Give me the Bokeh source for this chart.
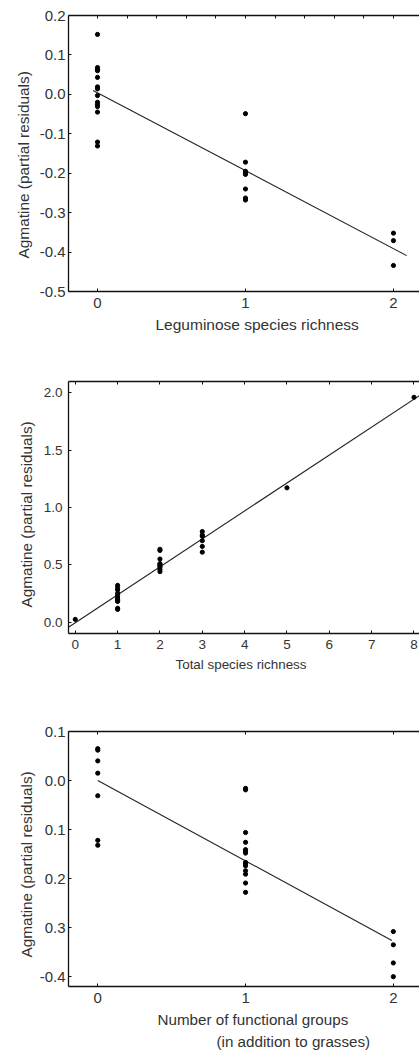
from bokeh.plotting import figure
from bokeh.models import FixedTicker, LinearAxis, Title, Range1d
from bokeh.layouts import column
from bokeh.embed import file_html
from bokeh.resources import INLINE

# ---------------- data ----------------
# Panel 1: Leguminose species richness
leg_x = [0, 0, 0, 0, 0, 0, 0, 0, 0, 0, 0, 0, 0, 0,
         1, 1, 1, 1, 1, 1, 1, 1,
         2, 2, 2]
leg_y = [0.152, 0.068, 0.063, 0.060, 0.043, 0.019, 0.014, -0.003, -0.020, -0.026, -0.031, -0.045, -0.121, -0.131,
         -0.049, -0.172, -0.195, -0.200, -0.203, -0.240, -0.263, -0.268,
         -0.352, -0.371, -0.434]
leg_fit_x = [-0.03, 2.09]
leg_fit_y = [0.010, -0.409]
leg_yticks = [0.2, 0.1, 0.0, -0.1, -0.2, -0.3, -0.4, -0.5]
leg_ytick_labels = ["0.2", "0.1", "0.0", "-0.1", "-0.2", "-0.3", "-0.4", "-0.5"]
leg_xticks = [0, 1, 2]
leg_xtick_labels = ["0", "1", "2"]
leg_top_ticks = [0.0, 0.2, 0.4, 0.6, 0.8, 1.0, 1.2, 1.4, 1.6, 1.8, 2.0]

# Panel 2: Total species richness
tot_x = [0,
         1, 1, 1, 1, 1, 1, 1, 1, 1, 1, 1,
         2, 2, 2, 2, 2, 2, 2, 2, 2,
         3, 3, 3, 3, 3, 3,
         5, 8]
tot_y = [0.023,
         0.32, 0.30, 0.28, 0.25, 0.23, 0.21, 0.20, 0.19, 0.18, 0.12, 0.11,
         0.635, 0.625, 0.55, 0.51, 0.50, 0.49, 0.48, 0.46, 0.44,
         0.79, 0.76, 0.75, 0.71, 0.66, 0.61,
         1.172, 1.962]
tot_fit_x = [-0.16, 8.13]
tot_fit_y = [-0.045, 1.978]
tot_yticks = [0.0, 0.5, 1.0, 1.5, 2.0]
tot_ytick_labels = ["0.0", "0.5", "1.0", "1.5", "2.0"]
tot_xticks = [0, 1, 2, 3, 4, 5, 6, 7, 8]
tot_xtick_labels = ["0", "1", "2", "3", "4", "5", "6", "7", "8"]

# Panel 3: Number of functional groups
fun_x = [0, 0, 0, 0, 0, 0, 0,
         1, 1, 1, 1, 1, 1, 1, 1, 1, 1, 1, 1, 1, 1,
         2, 2, 2, 2]
fun_y = [0.065, 0.062, 0.040, 0.015, -0.031, -0.122, -0.132,
         -0.016, -0.019, -0.106, -0.126, -0.141, -0.144, -0.148, -0.167, -0.170, -0.174, -0.184, -0.191, -0.209, -0.228,
         -0.308, -0.335, -0.372, -0.400]
fun_fit_x = [0.0, 1.99]
fun_fit_y = [0.0, -0.326]
fun_yticks = [0.1, 0.0, -0.1, -0.2, -0.3, -0.4]
fun_ytick_labels = ["0.1", "0.0", "0.1", "0.2", "0.3", "-0.4"]
fun_xticks = [0, 1, 2]
fun_xtick_labels = ["0", "1", "2"]

Y_TITLE = "Agmatine (partial residuals)"
FONT = "Liberation Sans"
TXT = "#333333"
AX = "#111111"


def make_panel(xs, ys, fit_x, fit_y, xr, yr, yticks, ylabels, xticks, xlabels,
               top_ticks, height, b_left, b_top, b_bottom, fsize, ystandoff):
    p = figure(width=419, height=height, output_backend="svg", toolbar_location=None,
               title=None,
               x_range=Range1d(*xr), y_range=Range1d(*yr),
               x_axis_location=None, y_axis_location=None,
               min_border_left=b_left, min_border_right=0,
               min_border_top=b_top, min_border_bottom=b_bottom,
               background_fill_color="white", border_fill_color="white")
    p.outline_line_color = None
    p.xgrid.visible = False
    p.ygrid.visible = False

    ax_b = LinearAxis(ticker=FixedTicker(ticks=xticks),
                      major_label_overrides={t: l for t, l in zip(xticks, xlabels)})
    ax_l = LinearAxis(ticker=FixedTicker(ticks=yticks),
                      major_label_overrides={t: l for t, l in zip(yticks, ylabels)})
    ax_t = LinearAxis(ticker=FixedTicker(ticks=[], minor_ticks=top_ticks))
    for ax in (ax_b, ax_l, ax_t):
        ax.axis_line_color = AX
        ax.axis_line_width = 1.3
        ax.major_tick_line_color = AX
        ax.major_tick_in = 3
        ax.major_tick_out = 0
        ax.minor_tick_line_color = None
        ax.major_label_text_font = FONT
        ax.major_label_text_color = TXT
    ax_t.minor_tick_line_color = AX
    ax_t.minor_tick_in = 3
    ax_t.minor_tick_out = 0
    ax_b.major_label_text_font_size = fsize
    ax_l.major_label_text_font_size = fsize
    ax_b.major_label_standoff = 6
    ax_l.major_label_standoff = ystandoff
    p.add_layout(ax_b, "below")
    p.add_layout(ax_l, "left")
    p.add_layout(ax_t, "above")

    p.line(fit_x, fit_y, line_color="#222222", line_width=1.1)
    p.scatter(xs, ys, size=4.2, color="black")
    return p


def add_title(p, side, text, offset, fsize, standoff):
    p.add_layout(Title(text=text, align="left", offset=offset, standoff=standoff,
                       text_font=FONT, text_font_size=fsize, text_font_style="normal",
                       text_color=TXT), side)


# Panel 1
p1 = make_panel(leg_x, leg_y, leg_fit_x, leg_fit_y, (-0.196, 2.176), (-0.5, 0.2),
                leg_yticks, leg_ytick_labels, leg_xticks, leg_xtick_labels, leg_top_ticks,
                height=350, b_left=68, b_top=15, b_bottom=59, fsize="15px", ystandoff=3)
add_title(p1, "below", "Leguminose species richness", 87, "15.5px", 7)
add_title(p1, "left", Y_TITLE, 33, "15.4px", 9)

# Panel 2
p2 = make_panel(tot_x, tot_y, tot_fit_x, tot_fit_y, (-0.16, 8.13), (-0.1, 2.1),
                tot_yticks, tot_ytick_labels, tot_xticks, tot_xtick_labels, tot_xticks,
                height=340, b_left=64, b_top=31, b_bottom=57, fsize="13.5px", ystandoff=6)
add_title(p2, "below", "Total species richness", 107, "13.4px", 7)
add_title(p2, "left", Y_TITLE, 26, "15.3px", 11)

# Panel 3
p3 = make_panel(fun_x, fun_y, fun_fit_x, fun_fit_y, (-0.198, 2.177), (-0.42, 0.1),
                fun_yticks, fun_ytick_labels, fun_xticks, fun_xtick_labels, fun_xticks,
                height=362, b_left=68, b_top=41, b_bottom=66, fsize="15px", ystandoff=3)
add_title(p3, "below", "Number of functional groups", 89, "15.2px", 6)
add_title(p3, "below", "(in addition to grasses)", 148, "15.2px", 0)
add_title(p3, "left", Y_TITLE, 29, "15.3px", 4)

layout = column(p1, p2, p3, spacing=0)
open("out.html", "w").write(file_html(layout, INLINE))
